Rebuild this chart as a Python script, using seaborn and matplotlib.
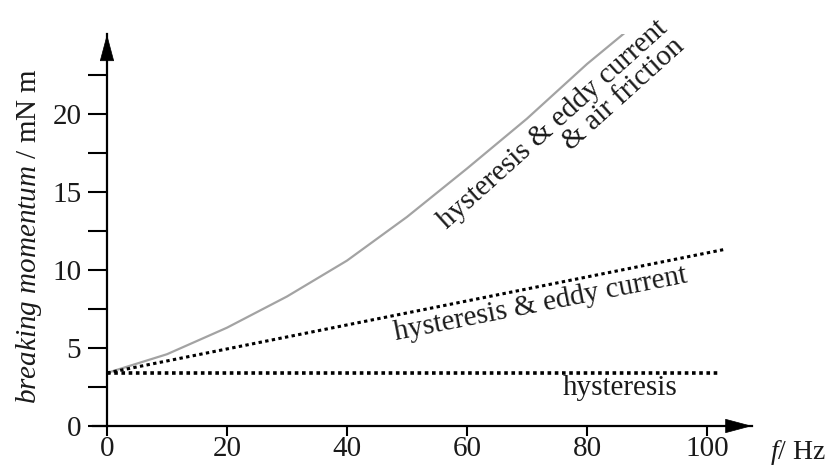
import numpy as np
import pandas as pd
import seaborn as sns
import matplotlib.pyplot as plt
from matplotlib.ticker import FixedLocator

# values (f in Hz, momentum in mN m)
f_hyst = [0, 102]
m_hyst = [3.4, 3.4]
f_eddy = [0, 102.7]
m_eddy = [3.4, 11.3]
f_air = [0, 10, 20, 30, 40, 50, 60, 70, 80, 86.3]
m_air = [3.4, 4.6, 6.3, 8.3, 10.6, 13.4, 16.5, 19.7, 23.2, 25.2]

xticks = [0, 20, 40, 60, 80, 100]
yticks = [0, 5, 10, 15, 20]
yminor = [2.5, 7.5, 12.5, 17.5, 22.5]

sns.set_style("ticks")
plt.rcParams['font.family'] = ['Liberation Serif', 'DejaVu Serif']
plt.rcParams['mathtext.fontset'] = 'custom'
plt.rcParams['mathtext.rm'] = 'Liberation Serif'
plt.rcParams['mathtext.it'] = 'Liberation Serif:italic'
tc = '#1a1a1a'
plt.rcParams['text.color'] = tc
plt.rcParams['axes.labelcolor'] = tc
fs = 21

fig = plt.figure(figsize=(8.29, 4.69), dpi=100)
ax = fig.add_axes([0.1124, 0.0917, 0.7947, 0.835])

sns.lineplot(x=f_air, y=m_air, ax=ax, color='#a3a3a3', lw=1.6)
sns.lineplot(x=f_eddy, y=m_eddy, ax=ax, color='k', lw=2.2, linestyle=(0, (1.1, 1.1)))
sns.lineplot(x=f_hyst, y=m_hyst, ax=ax, color='k', lw=2.6, linestyle=(0, (1.0, 1.0)))

ax.set_xlim(-2.3, 107.5)
ax.set_ylim(0, 25.1)
ax.spines['top'].set_visible(False)
ax.spines['right'].set_visible(False)
ax.spines['left'].set_position(('data', 0))
for s in ['left', 'bottom']:
    ax.spines[s].set_linewidth(1.6)
    ax.spines[s].set_color('k')

ax.xaxis.set_major_locator(FixedLocator(xticks))
ax.yaxis.set_major_locator(FixedLocator(yticks))
ax.yaxis.set_minor_locator(FixedLocator(yminor))
ax.tick_params(axis='x', length=7, width=1.5, pad=0, labelsize=fs, color='k', labelcolor=tc)
ax.tick_params(axis='y', which='both', length=13.5, width=1.5, pad=5, labelsize=fs,
               color='k', labelcolor=tc)

# arrow heads on the axes
arr = dict(arrowstyle='-|>,head_length=18,head_width=4.8', mutation_scale=1,
           fc='k', ec='k', lw=0.5, shrinkA=0, shrinkB=0)
ax.annotate('', xy=(107.5, 0), xytext=(103.3, 0), arrowprops=arr, annotation_clip=False)
ax.annotate('', xy=(0, 25.1), xytext=(0, 23.3), arrowprops=arr, annotation_clip=False)

ax.set_ylabel(r'$\it{breaking\ momentum}$ / mN m', fontsize=fs)
ax.yaxis.set_label_coords(-0.074, 0.485)
ax.set_xlabel(r'$\it{f}$/ Hz', fontsize=20)
ax.xaxis.set_label_coords(1.07, -0.03)

ax.text(85.5, 2.0, 'hysteresis', fontsize=fs, ha='center', va='baseline')
ax.text(72.5, 7.34, 'hysteresis & eddy current', fontsize=fs, ha='center',
        va='baseline', rotation=11.2, rotation_mode='anchor')
ax.text(93.6, 25.4, 'hysteresis & eddy current', fontsize=fs, ha='right',
        va='baseline', rotation=42, rotation_mode='anchor')
ax.text(96.4, 24.25, '& air friction', fontsize=fs, ha='right',
        va='baseline', rotation=42, rotation_mode='anchor')

fig.savefig('out.png', dpi=100)
